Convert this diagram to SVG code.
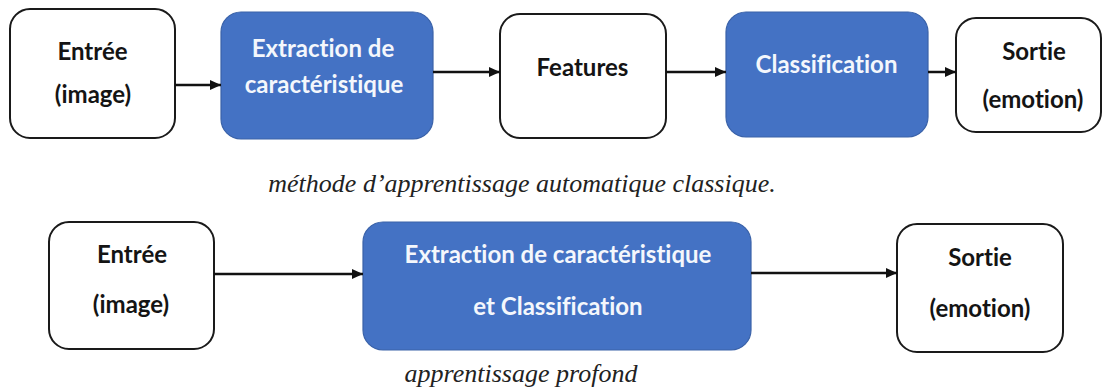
<svg xmlns="http://www.w3.org/2000/svg" width="1104" height="391" viewBox="0 0 1104 391">
  <style>
    .box-white { fill: #ffffff; stroke: #1a1a1a; stroke-width: 2; }
    .box-blue { fill: #4472C4; stroke: #3A62A8; stroke-width: 1.2; }
    .lbl { font-family: Lato, "Open Sans", "Liberation Sans", sans-serif; font-weight: bold; font-size: 24px; text-anchor: middle; font-variant-ligatures: none; }
    .lbl-dark { fill: #141414; }
    .lbl-light { fill: #F4F7FC; }
    .caption { font-family: "Liberation Serif", "Times New Roman", serif; font-style: italic; font-size: 26px; fill: #222222; text-anchor: middle; }
    .edge { stroke: #111111; stroke-width: 2.5; fill: none; marker-end: url(#head); }
  </style>
  <defs>
    <marker id="head" markerUnits="userSpaceOnUse" markerWidth="11" markerHeight="10" refX="11" refY="5" orient="auto">
      <path d="M0,0 L11,5 L0,10 z" fill="#111111"/>
    </marker>
  </defs>

  <rect width="1104" height="391" fill="#ffffff"/>

  <!-- classical pipeline -->
  <g id="entree-1">
    <rect class="box-white" x="10" y="9" width="165" height="129" rx="20"/>
    <text class="lbl lbl-dark" x="92.5" y="60">Entrée</text>
    <text class="lbl lbl-dark" x="93" y="103">(image)</text>
  </g>
  <g id="extraction-1">
    <rect class="box-blue" x="221" y="12" width="212" height="127" rx="20"/>
    <text class="lbl lbl-light" x="323" y="57">Extraction de</text>
    <text class="lbl lbl-light" x="324" y="93">caractéristique</text>
  </g>
  <g id="features">
    <rect class="box-white" x="500" y="14" width="166" height="124" rx="20"/>
    <text class="lbl lbl-dark" x="582.5" y="76">Features</text>
  </g>
  <g id="classification">
    <rect class="box-blue" x="726" y="12" width="202" height="125" rx="20"/>
    <text class="lbl lbl-light" x="826.5" y="73">Classification</text>
  </g>
  <g id="sortie-1">
    <rect class="box-white" x="956" y="18" width="145" height="114" rx="20"/>
    <text class="lbl lbl-dark" x="1034" y="60">Sortie</text>
    <text class="lbl lbl-dark" x="1033" y="108">(emotion)</text>
  </g>
  <g id="caption-1">
    <text class="caption" x="522" y="192">méthode d’apprentissage automatique classique.</text>
  </g>

  <!-- deep learning pipeline -->
  <g id="entree-2">
    <rect class="box-white" x="49" y="222" width="165" height="127" rx="20"/>
    <text class="lbl lbl-dark" x="132" y="263">Entrée</text>
    <text class="lbl lbl-dark" x="131" y="313">(image)</text>
  </g>
  <g id="extraction-classification">
    <rect class="box-blue" x="363" y="222" width="388" height="128" rx="20"/>
    <text class="lbl lbl-light" x="558" y="263">Extraction de caractéristique</text>
    <text class="lbl lbl-light" x="558" y="315">et Classification</text>
  </g>
  <g id="sortie-2">
    <rect class="box-white" x="897" y="224" width="166" height="128" rx="20"/>
    <text class="lbl lbl-dark" x="980" y="266">Sortie</text>
    <text class="lbl lbl-dark" x="980" y="317">(emotion)</text>
  </g>
  <g id="caption-2">
    <text class="caption" x="521" y="382">apprentissage profond</text>
  </g>

  <!-- connectors -->
  <g id="connectors">
    <line class="edge" x1="175" y1="85" x2="221" y2="85"/>
    <line class="edge" x1="433" y1="72" x2="500" y2="72"/>
    <line class="edge" x1="666" y1="72" x2="726" y2="72"/>
    <line class="edge" x1="928" y1="72" x2="956" y2="72"/>
    <line class="edge" x1="214" y1="274" x2="363" y2="274"/>
    <line class="edge" x1="751" y1="273" x2="897" y2="273"/>
  </g>
</svg>
